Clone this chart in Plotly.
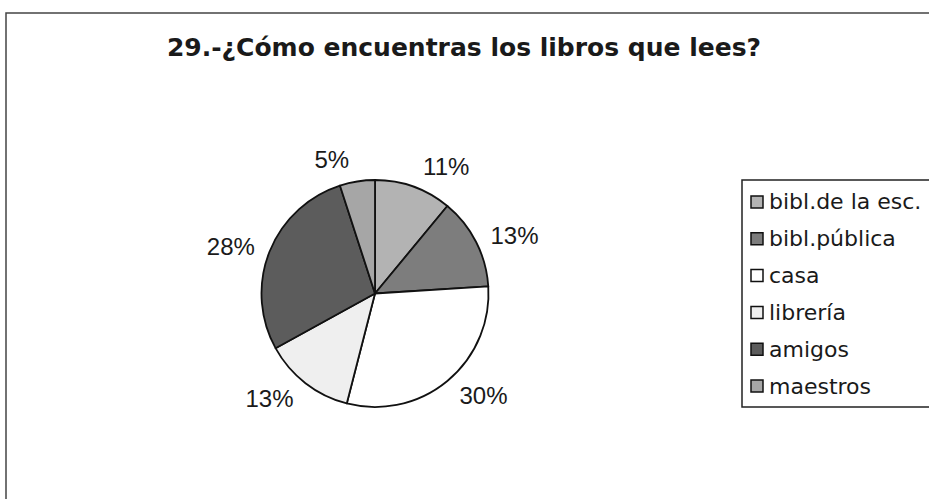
import plotly.graph_objects as go

categories = ["bibl.de la esc.", "bibl.pública", "casa", "librería", "amigos", "maestros"]
values = [11, 13, 30, 13, 28, 5]
colors = ["#b3b3b3", "#7d7d7d", "#ffffff", "#efefef", "#5c5c5c", "#a6a6a6"]
title_text = "29.-¿Cómo encuentras los libros que lees?"

W, H = 929, 499
cx, cy, r = 375, 293.5, 113.5      # pie centre / radius in px
r_lab = 122                        # radius used for placing outside labels


def dom(rad):
    return dict(x=[(cx - rad) / W, (cx + rad) / W],
                y=[(H - cy - rad) / H, (H - cy + rad) / H])


fig = go.Figure()
# visible pie
fig.add_trace(go.Pie(
    labels=categories, values=values, sort=False,
    direction="clockwise", rotation=0,
    marker=dict(colors=colors, line=dict(color="#111111", width=1.8)),
    textinfo="none",
    domain=dom(r), showlegend=False,
    hoverinfo="label+percent",
))
# transparent twin pie, slightly larger, only for the outside percent labels
fig.add_trace(go.Pie(
    labels=categories, values=values, sort=False,
    direction="clockwise", rotation=0,
    marker=dict(colors=["rgba(0,0,0,0)"] * len(values), line=dict(width=0)),
    textinfo="percent", textposition="outside",
    textfont=dict(family="Liberation Sans, Arial, sans-serif", size=24, color="#1a1a1a"),
    domain=dom(r_lab), showlegend=False,
    hoverinfo="skip",
))

shapes = []
annotations = []
# outer chart frame
shapes.append(dict(type="rect", xref="paper", yref="paper",
                   x0=6 / W, x1=1.05, y0=-0.05, y1=(H - 13) / H,
                   line=dict(color="#444444", width=1.5), fillcolor="rgba(0,0,0,0)"))
# legend box
lx0, ly0, lx1, ly1 = 742, 180, 945, 407
shapes.append(dict(type="rect", xref="paper", yref="paper",
                   x0=lx0 / W, x1=lx1 / W, y0=(H - ly1) / H, y1=(H - ly0) / H,
                   line=dict(color="#222222", width=1.5), fillcolor="white"))
row0, step = 202, 36.8
for i, (cat, col) in enumerate(zip(categories, colors)):
    yy = row0 + i * step
    shapes.append(dict(type="rect", xref="paper", yref="paper",
                       x0=751 / W, x1=763 / W, y0=(H - yy - 6) / H, y1=(H - yy + 6) / H,
                       line=dict(color="#111111", width=1.5), fillcolor=col))
    annotations.append(dict(text=cat, xref="paper", yref="paper",
                            x=767 / W, y=(H - yy) / H, xanchor="left", yanchor="middle",
                            showarrow=False,
                            font=dict(family="DejaVu Sans, sans-serif", size=22, color="#1a1a1a")))

fig.update_layout(
    width=W, height=H,
    margin=dict(l=0, r=0, t=0, b=0),
    paper_bgcolor="white",
    plot_bgcolor="white",
    title=dict(text="<b>" + title_text + "</b>", x=464 / W, xanchor="center",
               y=(H - 47) / H, yanchor="middle",
               font=dict(family="DejaVu Sans, sans-serif", size=25, color="#1a1a1a")),
    shapes=shapes,
    annotations=annotations,
)

fig.write_html("out.html", config={"displayModeBar": False},
               post_script="document.body.style.margin='0';")
